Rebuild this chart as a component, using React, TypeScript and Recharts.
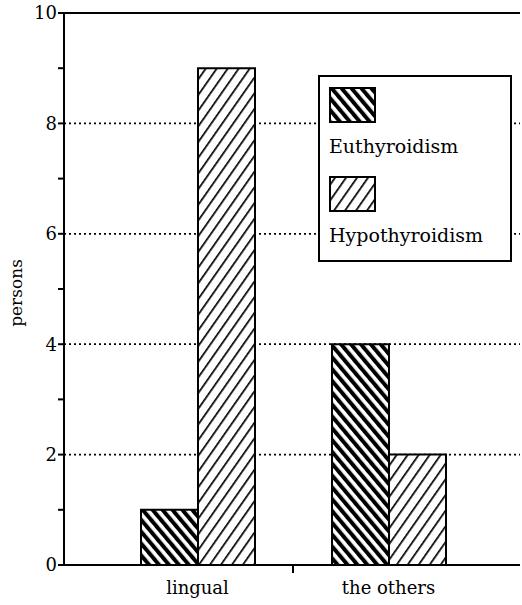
import React from 'react';
import { BarChart, Bar, XAxis, YAxis, CartesianGrid, ReferenceLine, Legend } from 'recharts';

const categories = ['lingual', 'the others'];
const euthyroidism = [1, 4];
const hypothyroidism = [9, 2];
const yTicks = [0, 1, 2, 3, 4, 5, 6, 7, 8, 9, 10];
const gridValues = [2, 4, 6, 8];
const seriesNames = ['Euthyroidism', 'Hypothyroidism'];
const patternIds = ['hatch-eu', 'hatch-hypo'];

const data = categories.map((name, i) => ({
  name,
  eu: euthyroidism[i],
  hypo: hypothyroidism[i],
}));

const FONT = '"DejaVu Serif", "Liberation Serif", serif';

function YTick(props: any) {
  const { x, y, payload } = props;
  if (payload.value % 2 !== 0) return null;
  return (
    <text x={x} y={y} dy="0.36em" textAnchor="end" fontFamily={FONT} fontSize={18} fill="#000">
      {payload.value}
    </text>
  );
}

function XTick(props: any) {
  const { x, y, payload, index } = props;
  const axisY = y - 8;
  const half = payload.offset ?? 95;
  return (
    <g>
      <text x={x} y={y} dy={21} textAnchor="middle" fontFamily={FONT} fontSize={18} fill="#000">
        {payload.value}
      </text>
      {index === 0 && (
        <line x1={x + half} x2={x + half} y1={axisY} y2={axisY + 8} stroke="#000" strokeWidth={2} />
      )}
    </g>
  );
}

function LegendBox() {
  return (
    <svg width={194} height={187} style={{ display: 'block' }}>
      <rect x={1} y={1} width={192} height={185} fill="#fff" stroke="#000" strokeWidth={2} />
      {seriesNames.map((n, i) => (
        <g key={n}>
          <rect x={12} y={13 + i * 89} width={45} height={34} fill={`url(#${patternIds[i]})`} stroke="#000" strokeWidth={2} />
          <text x={11} y={78 + i * 89} fontFamily={FONT} fontSize={19} fill="#000">
            {n}
          </text>
        </g>
      ))}
    </svg>
  );
}

export default function App() {
  return (
    <div style={{ position: 'absolute', left: 0, top: 0, width: 522, height: 605, background: '#fff' }}>
      <BarChart
        width={522}
        height={605}
        data={data}
        margin={{ top: 13, right: 2, bottom: 10, left: 20 }}
        barGap={0}
        barSize={57}
      >
        <defs>
          <pattern id="hatch-eu" patternUnits="userSpaceOnUse" width={7.6} height={7.6} patternTransform="rotate(-40)">
            <rect width={7.6} height={7.6} fill="#fff" />
            <rect width={4} height={7.6} fill="#000" />
          </pattern>
          <pattern id="hatch-hypo" patternUnits="userSpaceOnUse" width={9} height={9} patternTransform="rotate(35)">
            <rect width={9} height={9} fill="#fff" />
            <rect width={1.7} height={9} fill="#000" />
          </pattern>
        </defs>
        <CartesianGrid
          vertical={false}
          stroke="#000"
          strokeWidth={1.8}
          strokeDasharray="2 3"
          horizontalCoordinatesGenerator={({ yAxis, offset }: any) =>
            gridValues.map((v) =>
              yAxis && typeof yAxis.scale === 'function'
                ? yAxis.scale(v)
                : offset.top + offset.height * (1 - v / 10)
            )
          }
        />
        <XAxis
          dataKey="name"
          height={30}
          padding={{ left: 38, right: 36 }}
          axisLine={{ stroke: '#000', strokeWidth: 2 }}
          tickLine={false}
          tickSize={8}
          tickMargin={0}
          interval={0}
          tick={<XTick />}
        />
        <YAxis
          width={44}
          domain={[0, 10]}
          ticks={yTicks}
          interval={0}
          axisLine={{ stroke: '#000', strokeWidth: 2 }}
          tickLine={{ stroke: '#000', strokeWidth: 2 }}
          tickSize={6}
          tickMargin={1}
          tick={<YTick />}
          label={{
            content: () => (
              <text
                x={16}
                y={293}
                transform="rotate(-90 16 293)"
                textAnchor="middle"
                dominantBaseline="central"
                fontFamily={FONT}
                fontSize={17}
                fill="#000"
              >
                persons
              </text>
            ),
          }}
        />
        <ReferenceLine y={10} stroke="#000" strokeWidth={2} />
        <Bar dataKey="eu" name={seriesNames[0]} fill="url(#hatch-eu)" stroke="#000" strokeWidth={2} isAnimationActive={false} />
        <Bar dataKey="hypo" name={seriesNames[1]} fill="url(#hatch-hypo)" stroke="#000" strokeWidth={2} isAnimationActive={false} />
        <Legend
          layout="vertical"
          align="center"
          verticalAlign="middle"
          content={() => <LegendBox />}
          wrapperStyle={{ position: 'absolute', left: 318, top: 75, width: 194, height: 187 }}
        />
      </BarChart>
    </div>
  );
}
